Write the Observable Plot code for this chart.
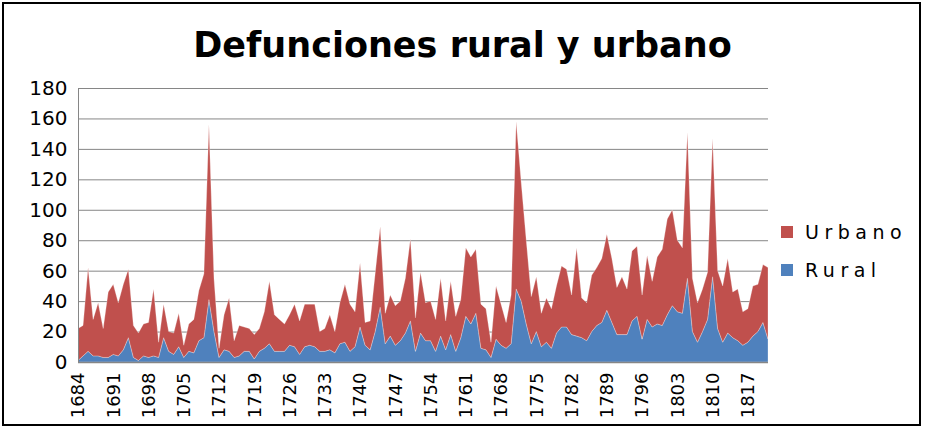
<!DOCTYPE html>
<html>
<head>
<meta charset="utf-8">
<script src="https://cdn.jsdelivr.net/npm/d3@7"></script>
<script src="https://cdn.jsdelivr.net/npm/@observablehq/plot@0.6"></script>
<style>
  body { margin: 0; background: #fff; }
  #wrap { position: relative; width: 925px; height: 430px; font-family: "DejaVu Sans", sans-serif; overflow: hidden; }
  #border { position: absolute; left: 2px; top: 2px; width: 919px; height: 424px; border: 2px solid #000; box-sizing: border-box; pointer-events: none; }
  #title { position: absolute; left: 0; top: 25px; width: 925px; text-align: center; font-weight: bold; font-size: 35px; line-height: 40px; color: #000; }
  .leg { position: absolute; left: 781px; font-size: 19px; line-height: 20px; letter-spacing: 5.5px; color: #000; display: flex; align-items: center; }
  .sw { display: inline-block; width: 12px; height: 12px; margin-right: 12px; }
</style>
</head>
<body>
<div id="wrap">
  <div id="chart"></div>
  <div id="title">Defunciones rural y urbano</div>
  <div class="leg" style="top:222px"><span class="sw" style="background:#C0504D"></span>Urbano</div>
  <div class="leg" style="top:260px"><span class="sw" style="background:#4F81BD"></span>Rural</div>
  <div id="border"></div>
</div>
<script>
const startYear = 1684;
const endYear = 1821;
const series = ["Rural", "Urbano"];
const colors = ["#4F81BD", "#C0504D"];

const rural = [
  1, 4, 7, 4, 4, 3, 3, 5, 4, 8, 16, 3, 1, 4, 3, 4, 3, 16, 7, 5,
  10, 3, 7, 6, 14, 16, 41, 20, 3, 8, 7, 3, 4, 7, 7, 2, 7, 9, 12, 7,
  7, 7, 11, 10, 5, 10, 11, 10, 7, 7, 8, 6, 12, 13, 7, 10, 23, 11, 8, 20,
  36, 12, 17, 11, 14, 19, 27, 7, 19, 14, 14, 7, 17, 8, 18, 7, 16, 30, 25, 32,
  9, 8, 3, 15, 11, 9, 12, 48, 40, 25, 12, 20, 10, 13, 9, 19, 23, 23, 18, 17,
  16, 14, 20, 24, 26, 34, 26, 18, 18, 18, 27, 30, 15, 28, 23, 25, 24, 31, 37, 33,
  32, 55, 20, 13, 20, 28, 56, 22, 13, 19, 16, 14, 11, 13, 17, 20, 26, 15
];
const urbano = [
  21, 20, 55, 24, 35, 19, 43, 46, 35, 43, 45, 21, 18, 21, 23, 44, 10, 22, 13, 14,
  22, 8, 18, 22, 33, 42, 115, 35, 6, 23, 35, 11, 20, 16, 15, 16, 15, 24, 41, 24,
  21, 18, 20, 28, 22, 28, 27, 28, 13, 15, 23, 14, 27, 38, 31, 23, 42, 15, 19, 38,
  53, 20, 27, 26, 26, 36, 54, 22, 40, 25, 26, 21, 38, 19, 35, 23, 25, 45, 44, 42,
  29, 27, 10, 35, 27, 17, 32, 110, 78, 55, 31, 36, 22, 29, 26, 31, 40, 38, 26, 58,
  26, 25, 37, 38, 42, 50, 42, 31, 38, 30, 46, 46, 29, 42, 30, 44, 50, 63, 63, 47,
  43, 96, 35, 26, 28, 31, 91, 38, 37, 49, 30, 34, 22, 22, 33, 31, 38, 47
];
const xTicks = [1684, 1691, 1698, 1705, 1712, 1719, 1726, 1733, 1740, 1747, 1754, 1761, 1768, 1775, 1782, 1789, 1796, 1803, 1810, 1817];
const yTicks = [0, 20, 40, 60, 80, 100, 120, 140, 160, 180];

const data = [];
rural.forEach((v, i) => data.push({ year: startYear + i, serie: "Rural", v }));
urbano.forEach((v, i) => data.push({ year: startYear + i, serie: "Urbano", v }));

const chart = Plot.plot({
  width: 925,
  height: 430,
  marginLeft: 78,
  marginRight: 157,
  marginTop: 88,
  marginBottom: 68,
  style: { fontFamily: "DejaVu Sans", color: "#000", background: "transparent" },
  x: { domain: [startYear, endYear], label: null },
  y: { domain: [0, 180], label: null },
  color: { domain: series, range: colors },
  marks: [
    Plot.ruleY(yTicks, { stroke: "#868686", strokeWidth: 1 }),
    Plot.areaY(data, { x: "year", y: "v", fill: "serie", order: series, stroke: "#ffffff", strokeOpacity: 0.35, strokeWidth: 0.8 }),
    Plot.ruleX([startYear], { stroke: "#868686", strokeWidth: 1 }),
    Plot.ruleY([0], { stroke: "#868686", strokeWidth: 1.5 }),
    Plot.axisY(yTicks, { tickSize: 0, tickPadding: 11, fontSize: 20, label: null }),
    Plot.axisX(xTicks, { tickSize: 0, tickPadding: 10, tickRotate: -90, fontSize: 18, tickFormat: d => String(d), label: null })
  ]
});
document.getElementById("chart").appendChild(chart);
</script>
</body>
</html>
